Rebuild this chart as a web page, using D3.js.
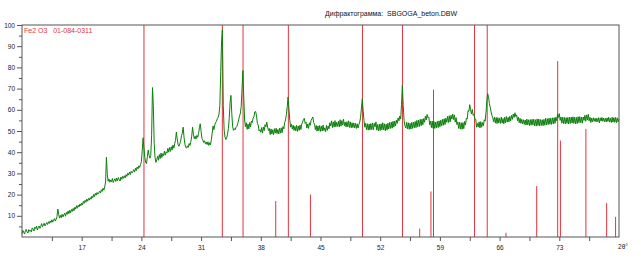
<!DOCTYPE html>
<html>
<head>
<meta charset="utf-8">
<script src="https://cdn.jsdelivr.net/npm/d3@7"></script>
<style>
  body { margin: 0; background: #fff; }
  text { font-family: "Liberation Sans", Arial, sans-serif; }
</style>
</head>
<body>
<div id="chart"></div>
<script>
// Scan range (2θ, degrees), one intensity value every 0.1°
const scanStart = 10;
const scanStep = 0.1;
const intensity = [
  1.6, 3.1, 2.2, 1.4, 2.9, 3.6, 2.3, 1.9, 3.5, 2.7,
  3.2, 2.4, 4.3, 3.7, 2.8, 4.6, 4.0, 5.1, 3.3, 4.4,
  5.2, 4.1, 5.0, 6.3, 4.8, 5.6, 6.5, 5.2, 6.0, 6.8,
  5.9, 7.2, 6.4, 7.6, 6.8, 8.1, 7.0, 7.9, 8.7, 7.5,
  8.3, 9.6, 13.2, 10.8, 8.9, 10.2, 9.1, 10.7, 9.5, 10.4,
  11.2, 9.8, 11.6, 10.7, 12.3, 11.0, 12.6, 11.4, 13.0, 12.1,
  13.5, 12.4, 14.1, 13.2, 14.8, 13.6, 15.0, 14.2, 15.6, 14.7,
  16.0, 15.1, 16.8, 15.9, 17.3, 16.4, 17.9, 16.9, 18.2, 17.4,
  18.6, 17.8, 19.3, 18.5, 20.1, 19.0, 20.6, 19.7, 21.0, 20.2,
  20.8, 21.6, 20.7, 22.3, 21.5, 23.0, 22.1, 23.6, 26.0, 37.6,
  29.5, 26.3, 27.4, 25.8, 26.9, 26.1, 27.6, 25.7, 26.8, 27.5,
  26.2, 27.8, 26.6, 28.0, 27.1, 26.4, 28.3, 27.2, 28.6, 27.7,
  28.9, 27.9, 29.4, 28.6, 30.1, 29.2, 30.6, 29.5, 31.0, 30.2,
  30.9, 31.8, 30.6, 32.4, 31.3, 33.0, 32.1, 33.6, 32.8, 34.2,
  35.5, 41.0, 46.8, 42.0, 37.5, 35.2, 34.6, 38.0, 41.0, 38.5,
  37.2, 38.5, 48.0, 70.5, 62.0, 44.0, 37.5, 35.2, 36.4, 38.1,
  36.2, 38.9, 37.0, 39.6, 37.5, 39.3, 38.4, 40.5, 38.6, 40.2,
  39.6, 41.8, 40.0, 42.2, 40.4, 42.6, 41.0, 43.4, 41.9, 44.0,
  45.5, 49.5, 46.3, 43.6, 42.8, 43.9, 45.2, 47.8, 49.0, 51.8,
  47.0, 43.8, 42.4, 41.9, 43.0, 42.3, 44.1, 43.2, 45.0, 47.6,
  51.8, 48.5, 46.4, 47.5, 46.2, 47.9, 47.0, 48.8, 51.5, 53.4,
  49.8, 46.5, 45.8, 44.6, 45.4, 44.0, 44.8, 43.6, 44.9, 43.2,
  44.5, 43.4, 45.8, 49.0, 52.4, 50.6, 52.8, 53.9, 54.6, 55.8,
  56.5, 58.0, 62.0, 78.0, 92.0, 97.8, 62.0, 50.5, 47.2, 46.0,
  46.8, 48.5, 51.2, 56.0, 63.5, 66.8, 58.2, 52.0, 50.3, 51.1,
  50.6, 51.8, 52.2, 53.6, 55.2, 57.0, 58.2, 61.5, 70.0, 78.5,
  66.0, 55.2, 52.0, 53.9, 50.8, 53.3, 51.0, 54.0, 51.9, 54.6,
  54.0, 56.0, 56.8, 59.0, 59.2, 57.0, 53.6, 52.8, 50.0, 50.6,
  49.4, 51.6, 49.0, 51.9, 50.2, 53.0, 52.0, 54.2, 51.8, 50.2,
  51.2, 48.3, 51.0, 48.6, 50.6, 48.2, 51.1, 49.0, 51.3, 48.8,
  50.7, 48.6, 51.3, 49.0, 51.5, 49.2, 52.1, 51.0, 54.0, 55.2,
  57.8, 61.5, 66.0, 60.5, 55.0, 51.8, 53.2, 50.9, 52.7, 50.3,
  52.2, 50.1, 52.6, 49.8, 52.4, 50.3, 52.8, 50.7, 53.3, 54.2,
  55.4, 56.0, 53.6, 54.2, 51.4, 53.3, 51.2, 53.9, 52.7, 55.0,
  55.8, 56.6, 54.0, 53.2, 50.6, 52.6, 49.9, 52.4, 50.1, 52.6,
  49.8, 52.3, 50.0, 52.8, 50.2, 51.5, 49.7, 52.6, 50.3, 52.4,
  51.0, 53.9, 52.4, 54.8, 51.6, 54.3, 51.8, 54.9, 52.0, 54.1,
  52.2, 54.6, 51.9, 55.3, 52.3, 54.9, 52.8, 55.6, 52.5, 54.2,
  51.9, 54.4, 52.0, 54.8, 51.7, 54.3, 51.5, 53.9, 51.6, 53.8,
  51.5, 53.6, 51.2, 53.4, 51.4, 53.0, 54.2, 56.5, 60.8, 65.2,
  59.5, 55.0, 51.8, 53.6, 50.6, 53.4, 50.4, 53.3, 50.5, 53.5,
  50.7, 53.8, 50.5, 53.6, 52.0, 54.3, 50.4, 53.1, 50.0, 53.2,
  50.2, 53.4, 50.6, 53.9, 50.5, 53.4, 50.1, 53.2, 50.4, 53.7,
  50.9, 54.0, 51.2, 54.2, 51.3, 54.6, 51.8, 54.7, 52.4, 55.2,
  53.6, 56.2, 54.8, 57.1, 55.6, 62.5, 71.6, 62.0, 55.0, 52.4,
  51.4, 54.1, 51.0, 53.9, 50.8, 53.6, 50.9, 54.1, 51.2, 54.2,
  51.5, 54.5, 51.6, 55.0, 52.0, 55.2, 52.1, 55.5, 52.5, 55.6,
  52.9, 55.9, 54.1, 57.0, 55.2, 57.8, 56.2, 56.6, 53.0, 54.6,
  51.6, 54.7, 51.3, 54.5, 51.2, 54.2, 51.5, 54.6, 51.6, 54.8,
  52.0, 55.1, 52.4, 55.5, 52.7, 55.8, 53.0, 56.0, 54.1, 56.9,
  54.0, 57.2, 54.3, 57.4, 55.6, 58.0, 55.4, 57.6, 54.2, 56.3,
  53.0, 54.3, 51.2, 54.1, 50.9, 53.9, 50.8, 54.0, 51.1, 54.5,
  52.8, 56.0, 55.6, 59.6, 59.3, 62.4, 60.0, 58.0, 60.2, 57.4,
  58.0, 55.6, 55.5, 51.8, 53.6, 51.9, 54.3, 51.4, 54.4, 51.8,
  54.0, 52.5, 55.3, 54.6, 58.5, 64.0, 67.6, 66.2, 63.0, 61.2,
  59.0, 57.4, 56.2, 54.4, 56.5, 53.7, 56.4, 53.5, 56.3, 53.8,
  56.0, 53.6, 56.6, 53.7, 55.9, 53.4, 56.5, 53.9, 56.8, 54.2,
  56.4, 54.3, 56.9, 54.8, 57.4, 55.5, 58.0, 56.4, 58.6, 56.8,
  57.6, 54.8, 56.6, 53.9, 56.0, 53.6, 55.5, 53.4, 55.3, 53.1,
  55.2, 52.8, 55.6, 52.9, 55.3, 52.6, 55.4, 52.7, 55.5, 52.9,
  55.6, 52.4, 55.3, 52.3, 55.7, 52.6, 55.6, 52.4, 55.4, 52.6,
  55.3, 52.5, 55.5, 52.7, 56.0, 52.9, 55.8, 53.0, 56.1, 53.2,
  56.0, 53.1, 56.2, 53.4, 56.3, 53.6, 56.5, 54.8, 58.0, 56.4,
  58.2, 55.0, 56.6, 53.7, 56.5, 53.5, 56.4, 53.4, 56.3, 53.6,
  56.4, 53.3, 56.5, 53.6, 56.6, 53.8, 56.7, 53.6, 56.5, 53.4,
  56.4, 53.5, 56.7, 53.9, 56.8, 54.0, 56.6, 53.7, 56.6, 55.0,
  57.4, 54.6, 57.6, 55.2, 57.9, 54.8, 56.5, 54.0, 56.1, 54.3,
  56.2, 54.6, 56.0, 54.3, 56.0, 54.4, 56.3, 53.8, 56.2, 54.7,
  56.4, 54.6, 56.1, 54.4, 56.0, 54.3, 56.2, 54.5, 56.5, 54.2,
  56.0, 54.0, 56.5, 54.2, 56.3, 54.1, 56.4, 53.9, 56.2, 54.3,
  55.6
];

// Fe2O3 reference card lines: position (2θ) and relative intensity
const refPos = [24.30, 33.49, 35.92, 39.75, 41.23, 43.82, 49.92, 54.61, 56.63, 57.95,
                58.25, 63.06, 64.55, 66.75, 70.35, 72.81, 73.13, 76.12, 78.55, 79.60];
const refInt = [100, 100, 100, 17, 100, 20, 100, 100, 4, 21.5,
                69.5, 100, 100, 2, 24, 83, 45.5, 51, 16, 9.5];

// Axis ticks
const xLabelTicks = [17, 24, 31, 38, 45, 52, 59, 66, 73];
const xMinorTicks = [13.5, 20.5, 27.5, 34.5, 41.5, 48.5, 55.5, 62.5, 69.5, 76.5];
const yLabelTicks = [10, 20, 30, 40, 50, 60, 70, 80, 90, 100];
const yMinorTicks = [5, 15, 25, 35, 45, 55, 65, 75, 85, 95];

const title = "Дифрактограмма:  SBGOGA_beton.DBW";
const cardLabel = "Fe2 O3   01-084-0311";

const W = 641, H = 262;
const margin = {top: 25, right: 22, bottom: 25, left: 22};

const svg = d3.select("#chart").append("svg")
  .attr("width", W)
  .attr("height", H);

const x = d3.scaleLinear().domain([10, 80]).range([margin.left, W - margin.right]);
const y = d3.scaleLinear().domain([0, 100]).range([H - margin.bottom, margin.top]);

// title
svg.append("text")
  .attr("x", 325)
  .attr("y", 16)
  .style("font-size", "7px")
  .style("fill", "#111")
  .style("white-space", "pre")
  .text(title);

// reference lines (under the scan)
svg.append("g")
  .selectAll("line")
  .data(refPos)
  .join("line")
  .attr("x1", d => x(d))
  .attr("x2", d => x(d))
  .attr("y1", y(0))
  .attr("y2", (d, i) => y(refInt[i]))
  .attr("stroke", "#e3343e")
  .attr("stroke-width", 1);

// scan
const scan = intensity.map((v, i) => [scanStart + i * scanStep, v]);
svg.append("path")
  .datum(scan)
  .attr("fill", "none")
  .attr("stroke", "#0b800b")
  .attr("stroke-width", 1)
  .attr("stroke-linejoin", "round")
  .attr("d", d3.line().x(d => x(d[0])).y(d => y(d[1])));

// frame
svg.append("rect")
  .attr("x", x(10))
  .attr("y", y(100))
  .attr("width", x(80) - x(10))
  .attr("height", y(0) - y(100))
  .attr("fill", "none")
  .attr("stroke", "#555")
  .attr("stroke-width", 1);

// y axis
svg.append("g")
  .attr("transform", `translate(${x(10)},0)`)
  .call(d3.axisLeft(y).tickValues(yLabelTicks).tickSize(5).tickPadding(2))
  .call(g => g.select(".domain").remove())
  .call(g => g.selectAll("line").attr("stroke", "#555"))
  .call(g => g.selectAll("text").attr("font-family", null).style("font-size", "6.5px").style("fill", "#222"));

svg.append("g")
  .attr("transform", `translate(${x(10)},0)`)
  .call(d3.axisLeft(y).tickValues(yMinorTicks).tickSize(3).tickFormat(""))
  .call(g => g.select(".domain").remove())
  .call(g => g.selectAll("line").attr("stroke", "#555"));

// x axis
svg.append("g")
  .attr("transform", `translate(0,${y(0)})`)
  .call(d3.axisBottom(x).tickValues(xLabelTicks).tickSize(4).tickPadding(4))
  .call(g => g.select(".domain").remove())
  .call(g => g.selectAll("line").attr("stroke", "#555"))
  .call(g => g.selectAll("text").attr("font-family", null).style("font-size", "6.5px").style("fill", "#222"));

svg.append("g")
  .attr("transform", `translate(0,${y(0)})`)
  .call(d3.axisBottom(x).tickValues(xMinorTicks).tickSize(4).tickFormat(""))
  .call(g => g.select(".domain").remove())
  .call(g => g.selectAll("line").attr("stroke", "#555"));

// 2θ unit label at the right end of the axis
svg.append("text")
  .attr("x", x(80) + 4)
  .attr("y", y(0) + 12)
  .style("text-anchor", "middle")
  .style("font-size", "6.5px")
  .style("fill", "#222")
  .text("2θ°");

// card label
svg.append("text")
  .attr("x", x(10) + 2)
  .attr("y", y(100) + 8)
  .style("font-size", "7px")
  .style("fill", "#e3343e")
  .style("white-space", "pre")
  .text(cardLabel);
</script>
</body>
</html>
